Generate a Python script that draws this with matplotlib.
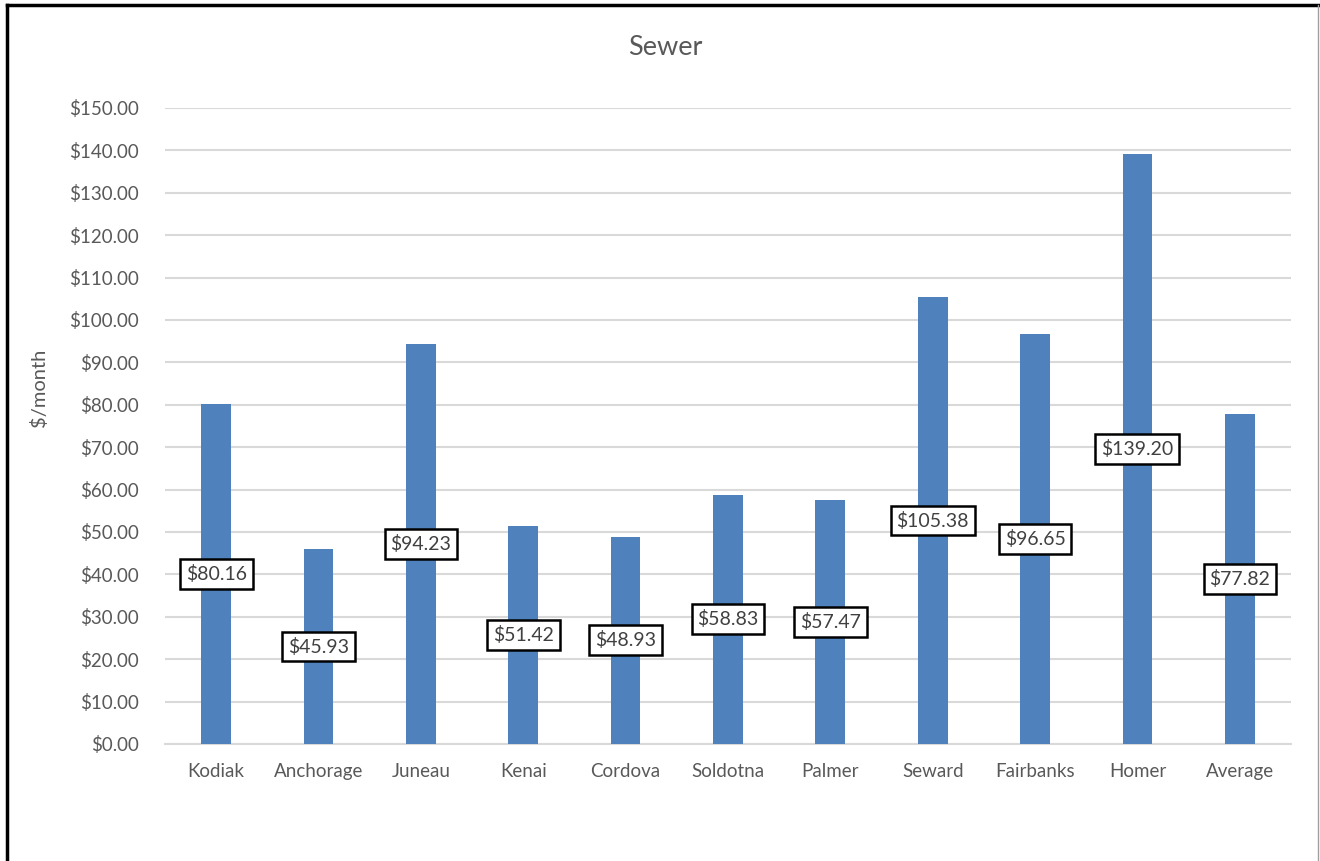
import matplotlib.pyplot as plt

cities = ['Kodiak', 'Anchorage', 'Juneau', 'Kenai', 'Cordova', 'Soldotna',
          'Palmer', 'Seward', 'Fairbanks', 'Homer', 'Average']
sewer = [80.16, 45.93, 94.23, 51.42, 48.93, 58.83, 57.47, 105.38, 96.65, 139.20, 77.82]
yticks = list(range(0, 151, 10))

plt.rcParams['font.family'] = ['Lato', 'DejaVu Sans']

fig = plt.figure(figsize=(13.2, 8.61), dpi=100)
ax = fig.add_axes([0.125, 0.1359, 0.853, 0.7387])

x = range(len(cities))
ax.bar(x, sewer, width=0.29, color='#4f81bd', zorder=3)

# value labels sit at mid-height of each bar
for i, v in zip(x, sewer):
    ax.text(i, v / 2, '${:,.2f}'.format(v), ha='center', va='center',
            fontsize=14, color='#404040', zorder=5,
            bbox=dict(boxstyle='square,pad=0.3', fc='white', ec='black', lw=1.8))

ax.set_xlim(-0.5, len(cities) - 0.5)
ax.set_ylim(0, 150)
ax.set_yticks(yticks)
ax.set_yticklabels(['${:.2f}'.format(t) for t in yticks])
ax.set_xticks(list(x))
ax.set_xticklabels(cities)
ax.yaxis.grid(True, color='#d9d9d9', lw=1.5, zorder=0)
ax.tick_params(axis='both', length=0, labelsize=13.5, colors='#595959')
ax.tick_params(axis='y', pad=19)
ax.tick_params(axis='x', pad=14)
for s in ['top', 'right', 'left']:
    ax.spines[s].set_visible(False)
ax.spines['bottom'].set_color('#d9d9d9')
ax.spines['bottom'].set_linewidth(1.5)

ax.set_ylabel('$/month', fontsize=14.5, color='#595959')
ax.yaxis.set_label_coords(-0.104, 0.56)
fig.text(0.504, 0.945, 'Sewer', ha='center', va='center', fontsize=19.5, color='#595959')

# outer frame: heavy black left/top, thin grey right
fig.add_artist(plt.Line2D([0.0053, 0.0053], [0, 0.9942], color='black', lw=2.5,
                          transform=fig.transFigure))
fig.add_artist(plt.Line2D([0.0053, 0.9985], [0.9942, 0.9942], color='black', lw=2.5,
                          transform=fig.transFigure))
fig.add_artist(plt.Line2D([0.9985, 0.9985], [0, 0.9942], color='#a0a0a0', lw=1,
                          transform=fig.transFigure))

fig.savefig('out.png', dpi=100)
